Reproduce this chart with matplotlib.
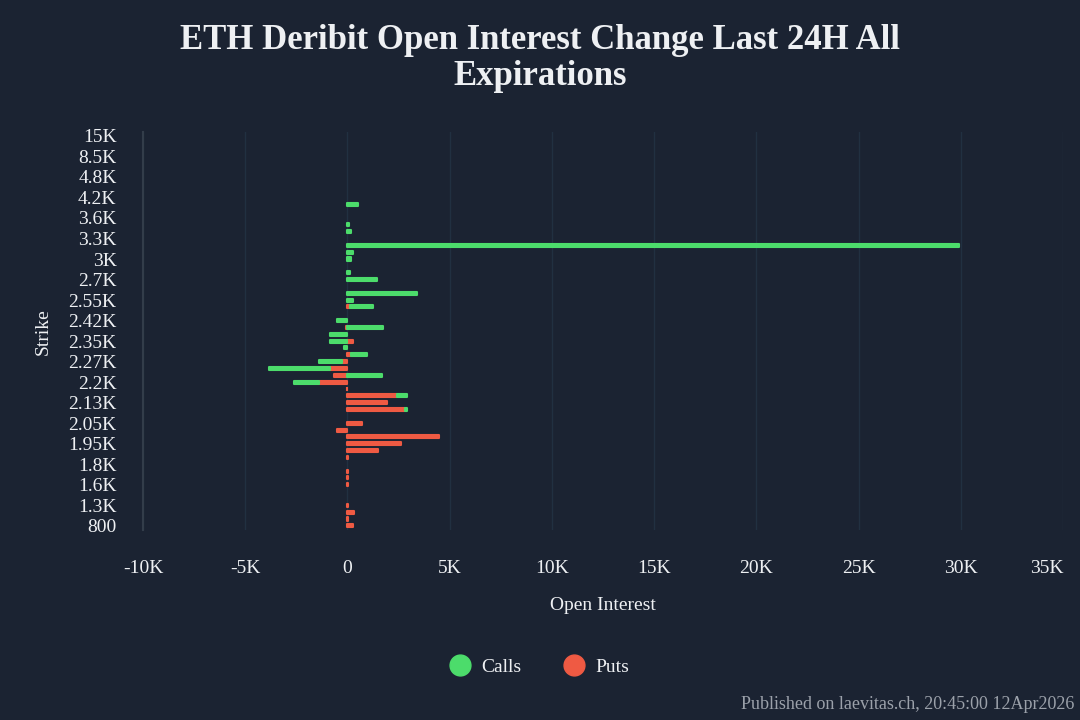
import matplotlib
matplotlib.use("Agg")
import matplotlib.pyplot as plt
import numpy as np
from matplotlib.lines import Line2D

# strikes, bottom to top (category axis)
strikes = [800, 1000, 1200, 1300, 1400, 1500, 1600, 1650, 1700, 1800,
           1850, 1900, 1950, 2000, 2025, 2050, 2075, 2100, 2125, 2150,
           2175, 2200, 2225, 2250, 2275, 2300, 2325, 2350, 2375, 2400,
           2425, 2450, 2500, 2550, 2600, 2650, 2700, 2800, 2900, 3000,
           3100, 3200, 3300, 3400, 3500, 3600, 3800, 4000, 4200, 4400,
           4600, 4800, 5000, 6000, 8500, 10000, 12000, 15000]

# labels shown on the axis (every third strike)
tick_labels = ["800", "1.3K", "1.6K", "1.8K", "1.95K", "2.05K", "2.13K",
               "2.2K", "2.27K", "2.35K", "2.42K", "2.55K", "2.7K", "3K",
               "3.3K", "3.6K", "4.2K", "4.8K", "8.5K", "15K"]

# open interest change last 24h
puts = [260, 40, 340, 50, 0, 0, 50, 50, 50, 0,
        50, 1500, 2630, 4490, -490, 700, 0, 2830, 1940, 2400,
        -30, -1410, -650, -870, -250, 170, 0, 260, 0, -50,
        0, 0, 130, 0, 0, 0, 0, 0, 0, 0,
        0, 0, 0, 0, 0, 0, 0, 0, 0, 0,
        0, 0, 0, 0, 0, 0, 0, 0]

calls = [0, 0, 0, 0, 0, 0, 0, 0, 0, 0,
         0, 0, 0, 0, 0, 0, 0, 100, 0, 490,
         0, -1190, 1680, -2970, -1150, 780, -150, -850, -850, 1760,
         -490, 0, 1110, 260, 3410, 0, 1420, 100, 0, 180,
         260, 29900, 0, 180, 80, 0, 0, 520, 0, 0,
         0, 0, 0, 0, 0, 0, 0, 0]

x_ticks = [-10000, -5000, 0, 5000, 10000, 15000, 20000, 25000, 30000, 35000]
x_tick_labels = ["-10K", "-5K", "0", "5K", "10K", "15K", "20K", "25K", "30K", "35K"]

BG = "#1b2332"
GREEN = "#4cdc6b"
RED = "#ef5a43"
TXT = "#eef0f3"

plt.rcParams["font.family"] = ["Liberation Serif", "DejaVu Serif"]

fig = plt.figure(figsize=(10.8, 7.2), dpi=100, facecolor=BG)
ax = fig.add_axes([0.1324, 0.264, 0.852, 0.552])
ax.set_facecolor(BG)

y = np.arange(len(strikes))
p = np.array(puts, dtype=float)
c = np.array(calls, dtype=float)
# relative stacking: calls go on top of puts when same sign
base = np.where(np.sign(c) == np.sign(p), p, 0)

h = 0.45
mp = p != 0
mc = c != 0
ax.barh(y[mp], p[mp], height=h, color=RED, edgecolor=RED, linewidth=1.5,
        joinstyle="round", zorder=3)
ax.barh(y[mc], c[mc], left=base[mc], height=h, color=GREEN, edgecolor=GREEN,
        linewidth=1.5, joinstyle="round", zorder=3)

ax.set_xlim(-10000, 35000)
ax.set_ylim(-0.6, len(strikes) - 0.5)
ax.set_xticks(x_ticks)
ax.set_xticklabels(x_tick_labels)
ax.set_yticks(y[::3])
ax.set_yticklabels(tick_labels)
ax.tick_params(axis="x", length=0, pad=22, labelsize=14, colors=TXT)
ax.tick_params(axis="y", length=0, pad=19, labelsize=14, colors=TXT)
ax.get_xticklabels()[-1].set_ha("right")

ax.grid(axis="x", color="#213041", linewidth=1, zorder=0)
for s in ["top", "right", "bottom"]:
    ax.spines[s].set_visible(False)
ax.spines["left"].set_color("#333d4a")
ax.spines["left"].set_linewidth(1.5)

ax.set_xlabel("Open Interest", fontsize=14, color=TXT, labelpad=14)
ax.set_ylabel("Strike", fontsize=14, color=TXT, labelpad=12)

fig.suptitle("ETH Deribit Open Interest Change Last 24H All\nExpirations",
             x=0.5, y=0.966, fontsize=25, fontweight="bold", color=TXT,
             linespacing=1.1)

handles = [Line2D([], [], marker="o", linestyle="", markersize=15,
                  markerfacecolor=GREEN, markeredgecolor=GREEN),
           Line2D([], [], marker="o", linestyle="", markersize=15,
                  markerfacecolor=RED, markeredgecolor=RED)]
leg = fig.legend(handles, ["Calls", "Puts"], loc="center", ncol=2,
                 bbox_to_anchor=(0.5, 0.073), frameon=False, fontsize=14,
                 handletextpad=0.6, columnspacing=2.2, handlelength=1.0)
for t in leg.get_texts():
    t.set_color(TXT)

fig.text(0.995, 0.021, "Published on laevitas.ch, 20:45:00 12Apr2026",
         ha="right", va="center", fontsize=13, color="#9ba1aa")

fig.savefig("out.png", dpi=100, facecolor=BG)
